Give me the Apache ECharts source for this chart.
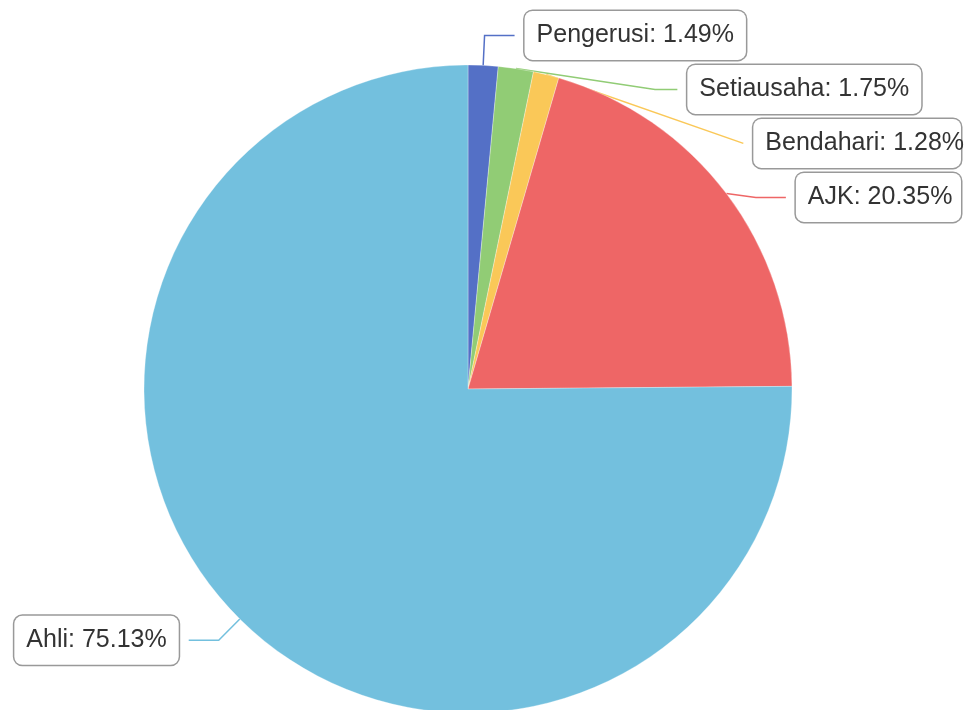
<!DOCTYPE html>
<html>
<head>
<meta charset="utf-8">
<script src="https://cdn.jsdelivr.net/npm/echarts@6/dist/echarts.min.js"></script>
<style>
  html, body { margin: 0; padding: 0; background: #fff; }
  #chart { width: 971px; height: 710px; }
</style>
</head>
<body>
<div id="chart"></div>
<script>
const names = ["Pengerusi", "Setiausaha", "Bendahari", "AJK", "Ahli"];
const values = [1.49, 1.75, 1.28, 20.35, 75.13];
const colors = ["#5470c6", "#91cc75", "#fac858", "#ee6666", "#73c0de"];

const chart = echarts.init(document.getElementById("chart"));

chart.setOption({
  backgroundColor: "#fff",
  animation: false,
  color: colors,
  series: [
    {
      type: "pie",
      center: [468, 389],
      radius: 324,
      startAngle: 90,
      data: names.map((n, i) => ({ name: n, value: values[i] })),
      itemStyle: { borderColor: "rgba(255,255,255,0.6)", borderWidth: 0.5 },
      label: {
        formatter: "{b}: {d}%",
        fontFamily: "Liberation Sans, Arial, sans-serif",
        fontSize: 25,
        color: "#333",
        backgroundColor: "#fff",
        borderColor: "#999",
        borderWidth: 1.5,
        borderRadius: 8,
        padding: [12, 12],
        overflow: "none",
        distanceToLabelLine: 10
      },
      labelLine: { length: 30, length2: 30, lineStyle: { width: 1.5 } }
    }
  ]
});

window.addEventListener("resize", () => chart.resize());
</script>
</body>
</html>
